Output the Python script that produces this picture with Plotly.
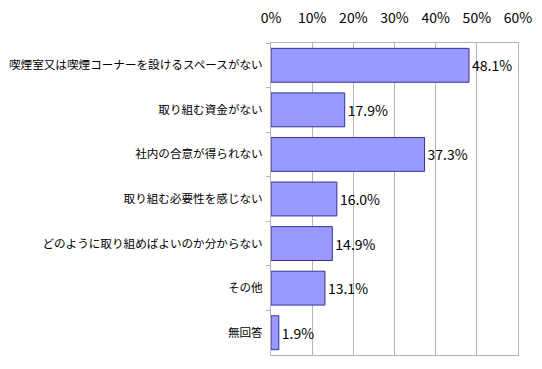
import plotly.graph_objects as go

categories = [
    "喫煙室又は喫煙コーナーを設けるスペースがない",
    "取り組む資金がない",
    "社内の合意が得られない",
    "取り組む必要性を感じない",
    "どのように取り組めばよいのか分からない",
    "その他",
    "無回答",
]
values = [48.1, 17.9, 37.3, 16.0, 14.9, 13.1, 1.9]
labels = [f"{v:.1f}%" for v in values]
x_ticks = [0, 10, 20, 30, 40, 50, 60]
x_tick_text = [f"{t}%" for t in x_ticks]

fig = go.Figure(go.Bar(
    x=values,
    y=categories,
    orientation="h",
    marker=dict(color="#9999FF", line=dict(color="#333399", width=1)),
    text=labels,
    textposition="outside",
    cliponaxis=False,
    textfont=dict(family="Noto Sans CJK JP", size=14, color="#000000"),
    width=0.76,
))

fig.update_layout(
    width=542,
    height=369,
    margin=dict(l=271, r=24, t=43, b=14, autoexpand=False),
    paper_bgcolor="white",
    plot_bgcolor="white",
    showlegend=False,
    font=dict(family="Noto Sans CJK JP", size=11, color="#000000"),
    bargap=0.24,
)

fig.update_xaxes(
    side="top",
    range=[0, 60],
    tickvals=x_ticks,
    ticktext=x_tick_text,
    showgrid=True,
    gridcolor="#B4B4B4",
    gridwidth=1,
    showline=True,
    linecolor="#B4B4B4",
    mirror=True,
    zeroline=False,
    ticks="",
    automargin=False,
    ticklabelstandoff=13,
    tickfont=dict(family="Noto Sans CJK JP", size=14, color="#000000"),
    fixedrange=True,
)

fig.update_yaxes(
    autorange="reversed",
    showline=True,
    linecolor="#B4B4B4",
    mirror=True,
    ticks="outside",
    tickson="boundaries",
    ticklen=4,
    tickcolor="#B4B4B4",
    automargin=False,
    ticklabelstandoff=5,
    tickfont=dict(family="Noto Sans CJK JP", size=11.6, color="#000000"),
    showgrid=False,
    fixedrange=True,
)

fig.write_html(
    "out.html",
    config={"displayModeBar": False},
    post_script="document.body.style.margin='0';document.body.style.overflow='hidden';",
)
